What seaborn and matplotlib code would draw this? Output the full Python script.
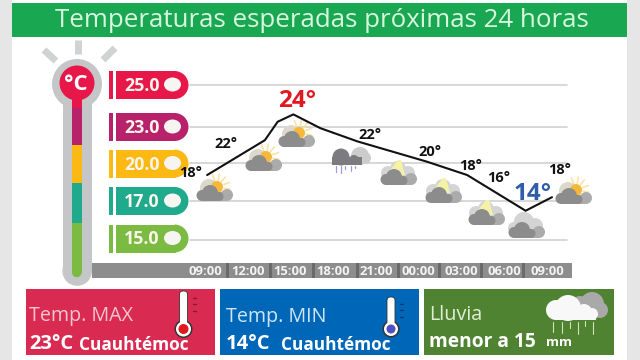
import numpy as np
import pandas as pd
import matplotlib
matplotlib.use("Agg")
import matplotlib.pyplot as plt
import seaborn as sns
from matplotlib.patches import Rectangle, Circle, Ellipse, FancyBboxPatch, Polygon, Wedge

# ---------- data ----------
scale_levels = [25.0, 23.0, 20.0, 17.0, 15.0]
scale_labels = ["25.0", "23.0", "20.0", "17.0", "15.0"]
scale_colors = ["#e8174a", "#b7226b", "#fdb913", "#1fa98d", "#7cbb42"]
line_hours = [0.15, 4.2, 5.1, 6.2, 8.1, 10.7, 15.6, 18.4, 22.5, 24.35]
line_temps = [19.05, 21.9, 23.25, 23.6, 22.9, 21.8, 20.1, 19.05, 16.5, 17.3]
tick_hours = [0, 3, 6, 9, 12, 15, 18, 21, 24]
tick_labels = ["09:00", "12:00", "15:00", "18:00", "21:00", "00:00", "03:00", "06:00", "09:00"]
forecast = ["18°", "22°", "24°", "22°", "20°", "18°", "16°", "14°", "18°"]
icon_kinds = ["sun", "sun", "sun", "rain", "bolt", "bolt", "bolt", "plain", "sun"]

# ---------- pixel layout ----------
sns.set_theme(style="white")
plt.rcParams["font.family"] = ["Open Sans", "DejaVu Sans"]
fig = plt.figure(figsize=(6.4, 3.6), dpi=100)
W, H = 640, 360
px = fig.add_axes([0, 0, 1, 1], zorder=1)
px.set_xlim(0, W); px.set_ylim(H, 0); px.axis("off")

# map temperature onto the chart's uneven scale, whose bands are evenly drawn
lv = np.array([10, 15, 17, 20, 23, 25, 30], float)
pos = -np.array([337.5, 240, 201, 163, 127, 85, -20], float)
fwd = lambda t: np.interp(t, lv, pos)
inv = lambda p: np.interp(p, pos, lv)

L, R, T, B = 92, 572, 60, 263
ax = fig.add_axes([L / W, 1 - B / H, (R - L) / W, (B - T) / H], zorder=2)
ax.patch.set_alpha(0)
ax.set_yscale("function", functions=(fwd, inv))
ax.set_ylim(inv(-B), inv(-T))
hx = lambda p: (p - 205) / 14.25
ax.set_xlim(hx(L), hx(R))

# page
px.add_patch(Rectangle((0, 0), 12, H, fc="#e6e6e6", ec="none"))
px.add_patch(Rectangle((627, 0), 13, H, fc="#e6e6e6", ec="none"))
px.add_patch(Rectangle((12, 3), 615, 34, fc="#19a851", ec="none"))
px.text(321.5, 20.5, "Temperaturas esperadas próximas 24 horas", color="#d8f7e0",
        fontsize=18.65, ha="center", va="center")

# thermometer
GR = "#c4c6c8"
for (x0, y0, x1, y1) in [(44, 50, 56, 61), (78, 40, 78, 54), (115, 48, 103, 60)]:
    px.plot([x0, x1], [y0, y1], color="#d0d2d3", lw=5, solid_capstyle="butt")
px.add_patch(Circle((77, 84), 25, fc=GR, ec="none"))
px.add_patch(Rectangle((62.5, 90), 29.5, 180, fc=GR, ec="none"))
px.add_patch(Circle((77.2, 271), 14.8, fc=GR, ec="none"))
for (c, y0, y1) in zip(scale_colors, [95, 108, 145, 183, 223], [108, 145, 183, 223, 273]):
    px.add_patch(Rectangle((72, y0), 9.5, y1 - y0, fc=c, ec="none"))
px.add_patch(Circle((76.75, 272.5), 4.75, fc=scale_colors[4], ec="none"))
px.add_patch(Circle((77, 83), 17.5, fc="#e8174a", ec="none"))
px.text(76, 84, "°C", color="white", fontsize=16, fontweight="bold", ha="center", va="center")

# scale pills
for lab, c, yc in zip(scale_labels, scale_colors, [85, 127, 163.5, 201, 238.5]):
    px.add_patch(Rectangle((109, yc - 14), 3.5, 28, fc=c, ec="none"))
    px.add_patch(Rectangle((116, yc - 14), 59.5, 28, fc=c, ec="none"))
    px.add_patch(Wedge((174.5, yc), 14, -90, 90, fc=c, ec="none"))
    px.add_patch(Ellipse((172.5, yc - .5), 17, 14, fc="#f7f5f2", ec="none"))
    px.text(142, yc + 1, lab, color="#fbf4ea", fontsize=12.8, fontweight="bold", ha="center", va="center")

# time bar
px.add_patch(Rectangle((92, 263), 480, 15, fc="#8d8d8d", ec="none"))
for x in [227, 270, 313, 357, 398, 439, 481, 523]:
    px.add_patch(Rectangle((x - 1, 263), 2.5, 15, fc="#6a6a6a", ec="none"))

# the chart's grid, under the icons
for lv_ in scale_levels:
    ax.plot([hx(190), hx(567)], [lv_, lv_], color="#d4d4d4", lw=1.3, zorder=0)

# weather icons: x = left edge, y = bottom edge; drawn between grid and line
DK = "#8c8c8c"

def put(patch):
    patch.set_transform(px.transData)
    patch.set_clip_on(False)
    patch.set_zorder(1)
    ax.add_patch(patch)

def circ(cx, cy, r, c):
    put(Circle((cx, cy), r, fc=c, ec="none"))

def rect(x0, y0, w, h, c):
    put(Rectangle((x0, y0), w, h, fc=c, ec="none"))

def seg(xs, ys, c, lw):
    ax.plot(xs, ys, color=c, lw=lw, transform=px.transData, clip_on=False, zorder=1)

def base(x, y, dark=DK):
    circ(x + 31, y - 6, 6, "#ababab")
    rect(x + 20, y - 9, 11, 9, "#ababab")
    circ(x + 6, y - 5.5, 5.5, dark)
    circ(x + 14, y - 8, 8, dark)
    circ(x + 23, y - 4.5, 4.5, dark)
    rect(x + 6, y - 8, 17, 8, dark)

def sun_icon(x, y):
    sx, sy = x + 21, y - 14
    for a in np.deg2rad([-110, -80, -50, -20, 10, 40]):
        seg([sx + 7 * np.cos(a), sx + 13 * np.cos(a)],
            [sy + 7 * np.sin(a), sy + 13 * np.sin(a)], "#fae3a2", 1.2)
    circ(x + 13, y - 13, 9, "#dcd8cc")
    circ(sx, sy, 6, "#f6b83a")
    base(x, y)

def bolt_icon(x, y):
    circ(x + 8, y - 12, 7, "#d4d4d4")
    circ(x + 28, y - 12, 7, "#d4d4d4")
    circ(x + 18, y - 16, 8, "#d4d4d4")
    put(Polygon([(x + 18, y - 25), (x + 21, y - 25), (x + 25, y - 10),
                 (x + 21, y - 10), (x + 10, y - 15)], fc="#f3f2a6", ec="none"))
    base(x, y)

def plain_icon(x, y):
    circ(x + 16, y - 16, 10, "#d4d4d4")
    circ(x + 27, y - 12, 8, "#d4d4d4")
    circ(x + 6, y - 10, 6, "#d4d4d4")
    base(x, y)

def rain_icon(x, y):
    circ(x + 28, y - 9, 9, "#cccccc")
    circ(x + 33, y - 7, 6, "#cccccc")
    circ(x + 9, y - 8, 8.5, "#7c7c80")
    circ(x + 22, y - 5, 5, "#7c7c80")
    rect(x, y - 8, 30, 8, "#7c7c80")
    for dx, n in [(4, 7), (9, 8), (13, 4), (19, 6), (23, 3)]:
        seg([x + dx, x + dx], [y + 1, y + n], "#9c9cd8", .9)

icon_left = [196, 245, 278, 332, 380, 425, 468, 508, 555]
icon_bot = [201, 171, 147, 165, 185, 203, 225, 238, 204]
for k, x, y in zip(icon_kinds, icon_left, icon_bot):
    {"sun": sun_icon, "bolt": bolt_icon, "rain": rain_icon, "plain": plain_icon}[k](x, y)

# the line
df = pd.DataFrame({"hour": line_hours, "temp": line_temps})
sns.lineplot(data=df, x="hour", y="temp", color="#111111", lw=1.5, ax=ax, zorder=3,
             errorbar=None, sort=False)
ax.set_xlabel(""); ax.set_ylabel("")
ax.set_xticks(tick_hours, tick_labels, color="#f4f4f4", fontsize=9.4, fontweight="bold")
ax.tick_params(axis="x", length=0, pad=1.2)
ax.set_yticks([]); ax.minorticks_off()
ax.yaxis.set_tick_params(which="both", length=0, labelleft=False)
for s in ax.spines.values():
    s.set_visible(False)
ax.grid(False)

label_x = [191, 226, 297, 370, 430, 471, 499, 533, 560]
label_y = [173, 144, 101, 135, 152, 166, 178, 194, 170]
for i, (t, x, y) in enumerate(zip(forecast, label_x, label_y)):
    col, fs = "#111111", 10.5
    if i == 2:
        col, fs = "#e2181f", 17.5
    if i == 7:
        col, fs = "#2f5da8", 17.5
    ax.text(x, y, t, color=col, fontsize=fs, fontweight="bold", ha="center", va="center",
            transform=px.transData, zorder=5)

# footer panels
px.add_patch(Rectangle((26, 289), 189, 66, fc="#d92b52", ec="none"))
px.add_patch(Rectangle((220, 289), 199, 66, fc="#0067b8", ec="none"))
px.add_patch(Rectangle((424, 289), 190, 66, fc="#4f8331", ec="none"))
px.text(29, 316, "Temp. MAX", color="#f6c5cf", fontsize=14.2, va="center")
px.text(226, 317, "Temp. MIN", color="#cfe6f8", fontsize=14.2, va="center")
px.text(429, 315, "Lluvia", color="#e2eed4", fontsize=14.2, va="center")
px.text(29, 344, "23°C", color="white", fontsize=14.5, fontweight="bold", va="center")
px.text(79, 345, "Cuauhtémoc", color="white", fontsize=12.4, fontweight="bold", va="center")
px.text(226, 344, "14°C", color="white", fontsize=14.5, fontweight="bold", va="center")
px.text(281, 345, "Cuauhtémoc", color="white", fontsize=12.4, fontweight="bold", va="center")
px.text(429, 342, "menor a 15", color="white", fontsize=13.8, fontweight="bold", va="center")
px.text(546, 343, "mm", color="white", fontsize=9.5, fontweight="bold", va="center")

def thermo(x, top, by, r, fill, tick_col):
    px.add_patch(Circle((x, by), r + 1.5, fc="#333333", ec="none"))
    px.add_patch(FancyBboxPatch((x - 4, top), 8, by - top, boxstyle="round,pad=0,rounding_size=3.5",
                                fc="white", ec="#333333", lw=.6))
    px.add_patch(Circle((x, by), r, fc="white", ec="none"))
    px.add_patch(Circle((x, by), r - 2.5, fc=fill, ec="none"))
    for y in [top + 7, top + 13, top + 20]:
        px.plot([x + 9, x + 12], [y, y], color=tick_col, lw=1)

thermo(183.5, 291, 329, 7.5, "#e2181f", "#7a1f35")
thermo(391, 297, 329, 7, "#5050c0", "#0b3a70")

# rain panel icon
for (cx, cy, r) in [(592, 304, 12), (600, 310, 8), (580, 304, 8)]:
    px.add_patch(Circle((cx, cy), r, fc="#a9a9a9", ec="none"))
for (cx, cy, r) in [(556, 310, 10), (568, 308, 13), (584, 312, 8), (592, 314, 6)]:
    px.add_patch(Circle((cx, cy), r, fc="#f8f8f8", ec="none"))
px.add_patch(Rectangle((556, 312), 40, 8, fc="#f8f8f8", ec="none"))
for (x, y0, y1) in [(553, 322, 332), (562, 322, 333), (570, 322, 328), (578, 322, 334), (585, 321, 326), (593, 322, 334)]:
    px.plot([x, x], [y0, y1], color="#cfe0c0", lw=.8)

fig.savefig("out.png", dpi=100, facecolor="white")
